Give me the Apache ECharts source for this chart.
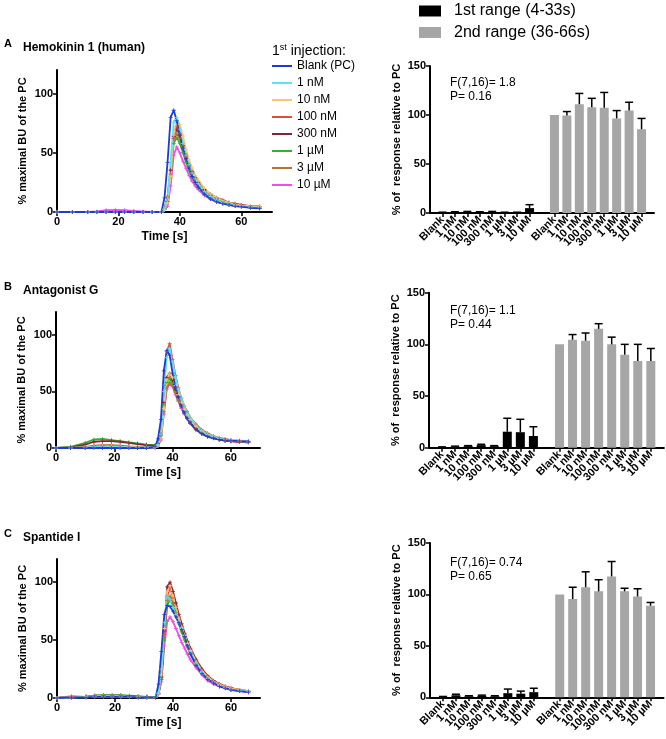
<!DOCTYPE html>
<html><head><meta charset="utf-8">
<script src="https://cdn.jsdelivr.net/npm/echarts@6/dist/echarts.min.js"></script>
<style>html,body{margin:0;padding:0;background:#fff}#c{width:666px;height:739px}</style>
</head><body><div id="c"></div>
<script>
// ---------- DATA ----------
const T = [0,5,10,13,16,19,22,25,28,31,34,35,36,37,38,39,40,41,42,43,44,45,46,48,50,52,54,56,58,60,63,66];
const LINE_NAMES = ['Blank (PC)','1 nM','10 nM','100 nM','300 nM','1 µM','3 µM','10 µM'];
const BAR_LABELS = ['Blank','1 nM','10 nM','100 nM','300 nM','1 µM','3 µM','10 µM'];
const RANGE_NAMES = ['1st range (4-33s)','2nd range (36-66s)'];
const F_TEXT = ['F(7,16)= 1.8','F(7,16)= 1.1','F(7,16)= 0.74'];
const P_TEXT = ['P= 0.16','P= 0.44','P= 0.65'];
const PANEL_LETTERS = ['A','B','C'];
const PANEL_TITLES = ['Hemokinin 1 (human)','Antagonist G','Spantide I'];

// Panel A traces
const A_blank = [0,0,0,0,0,0,0,0,0,0,0, 12,42,80,86,77,65,54,45,37,30,25,21, 15,11,8.5,7,6,5,4.5,3.5,3];
const A_1nM   = [0,0,0,0,0,0,0,0,0,0,0, 3,12,42,76,80,70,58,48,40,33,28,24, 17,13,10,8,6.5,5.5,5,4,3.5];
const A_10nM  = [0,0,0,0,0,0,0,0,0,0,0, 2,8,30,65,78,74,64,53,44,37,31,27, 20,15,12,9.5,8,6.5,5.5,5,4.5];
const A_100nM = [0,0,0,0,0,0,0,0,0,0,0, 2,9,32,62,72,66,56,47,39,33,28,24, 18,14,11,9,7.5,6.5,5.5,5,4.5];
const A_300nM = [0,0,0,0,0,0,0,0,0,0,0, 3,12,35,64,70,65,56,48,40,34,29,25, 19,15,12,10,8,7,6,5,4.5];
const A_1uM   = [0,0,0,0,0,0,0,0,0,0,0, 2,9,30,58,63,58,50,42,35,29,25,21, 16,12,9.5,8,6.5,5.5,5,4,3.5];
const A_3uM   = [0,0,0,0,0,0,0,0,0,0,0, 3,13,36,62,66,62,54,46,39,33,28,24, 18,14,11,9,7.5,6.5,5.5,5,4.5];
const A_10uM  = [0,0,0,0.5,1.5,1.8,1.5,1,0.5,0,0, 2,5,22,48,55,50,43,37,31,26,22,19, 14,11,8.5,7,6,5,4.5,4,3.5];

// Panel B traces
const B_blank = [0,0,0,0,0,0,0,0,0,0,1, 8,25,68,86,82,66,54,45,37,31,26,22, 16,12.5,10,8.5,7.5,7,6.5,6,5.5];
const B_1nM   = [0,0,0.5,1,1,1,1,0.5,0.5,0.5,0.5, 3,12,50,80,88,76,63,52,44,37,31,27, 20,15,12,10,8.5,7.5,7,6,5.5];
const B_10nM  = [0,0,0.5,1,1.5,1.5,1,1,0.5,0.5,0.5, 2,8,35,60,66,62,55,47,40,34,29,25, 19,15,12,10,8.5,7.5,7,6,5.5];
const B_100nM = [0,0,0.5,1,1.5,1.5,1,1,0.5,0.5,0.5, 3,12,55,85,92,78,64,53,44,37,32,27, 21,16,13,10.5,9,8,7,6.5,6];
const B_300nM = [0,0.5,3,5.5,6,6,5.5,4.5,3.5,2.5,2, 4,12,40,62,66,60,52,45,38,32,27,23, 17,13,10.5,9,7.5,6.5,6,5.5,5];
const B_1uM   = [0,1,4.5,7.5,8,7,6,5,4,3,2.5, 4,11,38,58,62,57,50,43,37,31,27,23, 17,13,10.5,9,8,7,6.5,6,5.5];
const B_3uM   = [0,0,1,2,2.5,2.5,2,1.5,1,1,0.5, 2,8,32,53,58,55,49,42,36,31,26,22, 17,13,10.5,9,7.5,6.5,6,5.5,5];
const B_10uM  = [0,0,0.5,1.5,2,2,1.5,1,0.5,0.5,0.5, 2,7,30,52,57,54,47,41,35,30,26,22, 17,13,10.5,9,7.5,6.5,6,5.5,5];

// Panel C traces
const C_blank = [0,0.5,0.5,1,1,1,1,1,0.5,0.5,0.5, 12,40,72,80,79,75,70,65,59,53,45,38, 28,21,16,13,10,8.5,7,6,5];
const C_1nM   = [0,0.5,0.5,1,1,1,1,1,0.5,0.5,0.5, 5,25,65,88,85,78,72,66,60,54,47,40, 30,22,17,13.5,11,9,7.5,6.5,5.5];
const C_10nM  = [0,0.5,1,1.5,1.5,1.5,1.5,1,1,0.5,0.5, 4,20,60,92,97,88,78,69,61,54,47,41, 31,23,18,14,11.5,9.5,8,7,6];
const C_100nM = [0,1,1,1.5,1.5,1.5,1.5,1,1,0.5,0.5, 4,18,55,88,95,87,78,70,62,55,48,42, 32,24,18.5,14.5,12,10,8.5,7,6];
const C_300nM = [0,0.5,1,2,2,2,2,1.5,1,1,0.5, 4,18,58,96,100,92,82,72,64,56,49,43, 33,25,19,15,12,10,8.5,7,6];
const C_1uM   = [0,0.5,1,2,2.5,2.5,2.5,2,1.5,1,1, 4,16,50,80,85,80,72,64,57,50,44,38, 29,22,17,13.5,11,9,7.5,6.5,5.5];
const C_3uM   = [0,0.5,1,2,2,2,2,1.5,1,1,0.5, 4,16,52,84,88,82,74,66,58,51,45,39, 30,22,17,13.5,11,9,7.5,6.5,5.5];
const C_10uM  = [0,1.5,1,1.5,1.5,1.5,1.5,1,0.5,0.5,0.5, 3,14,45,66,70,66,60,54,48,43,38,33, 26,20,15,12,10,8.5,7,6,5];

// Bar values (mean) and upward error
const A_first     = [0.5,0.8,1,0.8,1,0.5,0.5,5];
const A_first_err = [0.3,0.5,0.6,0.5,0.6,0.3,0.3,3.5];
const A_second     = [100,99.5,111,108,107.5,96.5,104.5,85.5];
const A_second_err = [0,4,11,9,15.5,8,8.5,11];
const B_first     = [0.5,1,1.5,2.5,1.5,15.5,15,11.3];
const B_first_err = [0.3,0.5,0.5,0.8,0.5,13,12.5,9];
const B_second     = [100,104.5,103.5,115,100,90,84,84];
const B_second_err = [0,5,7.5,5,7,10,16,12];
const C_first     = [0.5,2,1,1.5,1,4,3.5,5];
const C_first_err = [0.3,1,0.5,0.6,0.5,4,2.5,3.8];
const C_second     = [100,95.5,107,103,117.5,103,98,89];
const C_second_err = [0,11.5,15,11.3,14.5,3,7.5,3.2];

// ---------- STYLE / LAYOUT ----------
const FONT = 'Liberation Sans, Arial, sans-serif';
const LINE_COLORS = ['#1d3ad6','#5de4ec','#f5c878','#df4e3a','#8b2136','#2fb32c','#b9702f','#f24cf0'];
const lineGrids = [
  {left:57, top:70, width:215, height:142},
  {left:56, top:312, width:204, height:136},
  {left:57, top:559, width:203, height:139}
];
const barGrids = [
  {left:430, top:66, width:224, height:147},
  {left:429, top:292.7, width:237, height:155},
  {left:430, top:543, width:233.5, height:154.3}
];
const lineData = [
  [A_blank,A_1nM,A_10nM,A_100nM,A_300nM,A_1uM,A_3uM,A_10uM],
  [B_blank,B_1nM,B_10nM,B_100nM,B_300nM,B_1uM,B_3uM,B_10uM],
  [C_blank,C_1nM,C_10nM,C_100nM,C_300nM,C_1uM,C_3uM,C_10uM]
];
const barData = [
  [A_first,A_first_err,A_second,A_second_err],
  [B_first,B_first_err,B_second,B_second_err],
  [C_first,C_first_err,C_second,C_second_err]
];
const CATS = [''].concat(BAR_LABELS, [''], BAR_LABELS, ['']);
const nonEmpty = (i, v) => v !== '';
const CROSS = 'path://M4,0H6V4H10V6H6V10H4V6H0V4H4Z';

const grid = [], xAxis = [], yAxis = [], series = [];
lineGrids.forEach((g, p) => {
  grid.push(g);
  xAxis.push({
    gridIndex: grid.length-1, type:'value', min:0, max:70,
    name:'Time [s]', nameLocation:'middle', nameGap:19,
    nameTextStyle:{fontFamily:FONT, fontWeight:'bold', fontSize:12, color:'#000'},
    axisLine:{show:true, lineStyle:{color:'#000', width:2}},
    axisTick:{show:true, length:4, lineStyle:{color:'#000', width:1.5}, customValues:[0,20,40,60]},
    axisLabel:{fontFamily:FONT, fontWeight:'bold', fontSize:11, color:'#000', margin:4, customValues:[0,20,40,60]},
    splitLine:{show:false}
  });
  yAxis.push({
    gridIndex: grid.length-1, type:'value', min:0, max:120,
    name:'% maximal BU of the PC', nameLocation:'middle', nameGap:29,
    nameTextStyle:{fontFamily:FONT, fontWeight:'bold', fontSize:11, color:'#000'},
    axisLine:{show:true, lineStyle:{color:'#000', width:2}},
    axisTick:{show:true, length:4, lineStyle:{color:'#000', width:1.5}, customValues:[0,50,100]},
    axisLabel:{fontFamily:FONT, fontWeight:'bold', fontSize:11, color:'#000', margin:4, customValues:[0,50,100]},
    splitLine:{show:false}
  });
  const ai = xAxis.length-1;
  for (let k = LINE_NAMES.length-1; k >= 0; k--) {
    series.push({
      type:'line', name:LINE_NAMES[k], xAxisIndex:ai, yAxisIndex:ai,
      data: T.map((t,i) => [t, lineData[p][k][i]]),
      color: LINE_COLORS[k],
      lineStyle:{width:1.8, color:LINE_COLORS[k]},
      itemStyle:{color:LINE_COLORS[k]},
      symbol: CROSS, symbolSize:4, showSymbol:true, animation:false
    });
  }
});
barGrids.forEach((g, p) => {
  grid.push(g);
  xAxis.push({
    gridIndex: grid.length-1, type:'category', data:CATS, boundaryGap:false,
    axisLine:{show:true, lineStyle:{color:'#000', width:2}},
    axisTick:{show:true, interval:nonEmpty, length:4, lineStyle:{color:'#000', width:1.5}},
    axisLabel:{interval:0, hideOverlap:false,
      rotate:45, fontFamily:FONT, fontWeight:'bold', fontSize:11, color:'#000', margin:5},
    splitLine:{show:false}
  });
  yAxis.push({
    gridIndex: grid.length-1, type:'value', min:0, max:150, interval:50,
    name:'% of  response relative to PC', nameLocation:'middle', nameGap:28,
    nameTextStyle:{fontFamily:FONT, fontWeight:'bold', fontSize:11, color:'#000'},
    axisLine:{show:true, lineStyle:{color:'#000', width:2}},
    axisTick:{show:true, length:4, lineStyle:{color:'#000', width:1.5}},
    axisLabel:{fontFamily:FONT, fontWeight:'bold', fontSize:11, color:'#000', margin:4},
    splitLine:{show:false}
  });
  const ai = xAxis.length-1;
  const [f, fe, s, se] = barData[p];
  const firstVals = CATS.map(() => null), secondVals = CATS.map(() => null);
  const errs = [];
  f.forEach((v,i) => { firstVals[1+i] = v; errs.push([1+i, v, fe[i]]); });
  s.forEach((v,i) => { secondVals[10+i] = v; errs.push([10+i, v, se[i]]); });
  series.push({type:'bar', name:RANGE_NAMES[0], xAxisIndex:ai, yAxisIndex:ai, data:firstVals,
    barWidth:9, barGap:'-100%', itemStyle:{color:'#000'}, color:'#000', animation:false});
  series.push({type:'bar', name:RANGE_NAMES[1], xAxisIndex:ai, yAxisIndex:ai, data:secondVals,
    barWidth:9, barGap:'-100%', itemStyle:{color:'#a6a6a6'}, color:'#a6a6a6', animation:false});
  series.push({type:'custom', xAxisIndex:ai, yAxisIndex:ai, data:errs, z:5, animation:false,
    renderItem:(params, api) => {
      const x = api.value(0), m = api.value(1), e = api.value(2);
      if (!e) return null;
      const p0 = api.coord([x, m]), p1 = api.coord([x, m+e]);
      return {type:'group', children:[
        {type:'line', shape:{x1:p0[0], y1:p0[1], x2:p1[0], y2:p1[1]}, style:{stroke:'#000', lineWidth:1.5}},
        {type:'line', shape:{x1:p1[0]-4, y1:p1[1], x2:p1[0]+4, y2:p1[1]}, style:{stroke:'#000', lineWidth:1.5}}
      ]};
    }
  });
});

const graphic = [];
const titleY = [48, 291, 538];
PANEL_LETTERS.forEach((L, p) => {
  graphic.push({type:'text', x:4, y:titleY[p]-4, style:{text:L, font:'bold 11px '+FONT, fill:'#000', verticalAlign:'middle'}});
  graphic.push({type:'text', x:23, y:titleY[p], style:{text:PANEL_TITLES[p], font:'bold 12px '+FONT, fill:'#000', verticalAlign:'middle'}});
});
const fY = [83, 311, 563];
F_TEXT.forEach((t, p) => {
  graphic.push({type:'text', x:450, y:fY[p], style:{text:t, font:'12px '+FONT, fill:'#000', verticalAlign:'middle'}});
  graphic.push({type:'text', x:450, y:fY[p]+13.5, style:{text:P_TEXT[p], font:'12px '+FONT, fill:'#000', verticalAlign:'middle'}});
});
graphic.push({type:'text', x:272, y:51, style:{
  text:'{a|1}{s|st}{a| injection:}',
  rich:{a:{fontSize:14, fontFamily:FONT, fill:'#000'}, s:{fontSize:9, fontFamily:FONT, fill:'#000', padding:[0,0,7,0]}},
  verticalAlign:'middle'}});

const option = {
  animation:false,
  backgroundColor:'#fff',
  textStyle:{fontFamily:FONT},
  grid, xAxis, yAxis, series, graphic,
  legend:[
    {data:LINE_NAMES, orient:'vertical', left:272, top:59, padding:0, icon:'rect', itemWidth:20, itemHeight:2,
     itemGap:3, selectedMode:false,
     textStyle:{fontFamily:FONT, fontSize:12, color:'#000', lineHeight:14}},
    {data:RANGE_NAMES, orient:'vertical', left:419, top:2, padding:0, icon:'rect', itemWidth:22, itemHeight:11,
     itemGap:3.5, selectedMode:false,
     textStyle:{fontFamily:FONT, fontSize:16, color:'#000', lineHeight:18, padding:[0,0,0,8]}}
  ]
};
const chart = echarts.init(document.getElementById('c'), null, {renderer:'canvas'});
chart.setOption(option);
</script></body></html>
